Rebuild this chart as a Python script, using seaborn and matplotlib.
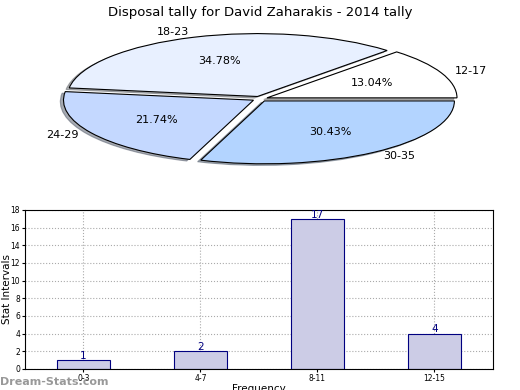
import matplotlib
matplotlib.use("Agg")
import matplotlib.pyplot as plt
import seaborn as sns

# pie data
age_groups = ["12-17", "18-23", "24-29", "30-35"]
age_counts = [3, 8, 5, 7]
pie_colors = ["#ffffff", "#e8f0ff", "#c4d8ff", "#b3d4ff"]

# bar data
intervals = ["0-3", "4-7", "8-11", "12-15"]
frequency = [1, 2, 17, 4]

fig = plt.figure(figsize=(5.2, 3.9), dpi=100)
fig.patch.set_facecolor("white")

# --- pie ---
ax1 = fig.add_axes([0.0615, 0.553, 0.877, 0.387])
ax1.pie(age_counts, labels=age_groups, colors=pie_colors, autopct="%.2f%%",
        explode=[0.04] * 4, shadow={"ox": -0.012, "oy": -0.018, "shade": 0.6},
        startangle=0, labeldistance=1.08,
        wedgeprops={"edgecolor": "black", "linewidth": 0.8},
        textprops={"fontsize": 8})
ax1.set_aspect("auto")
ax1.set_xlim(-1.2, 1.2)
ax1.set_ylim(-1.2, 1.2)
ax1.set_title("Disposal tally for David Zaharakis - 2014 tally", fontsize=9.5, pad=5)

# --- bars ---
ax2 = fig.add_axes([0.048, 0.054, 0.9, 0.408])
sns.barplot(x=intervals, y=frequency, color="#ccccE6", saturation=1,
            edgecolor="navy", linewidth=0.8, width=0.45, ax=ax2)
for i, v in enumerate(frequency):
    ax2.text(i, v - 0.1, str(v), ha="center", va="bottom", color="navy", fontsize=7.5)
ax2.set_xlim(-0.5, 3.5)
ax2.set_ylim(0, 18)
ax2.set_yticks(range(0, 19, 2))
ax2.grid(True, linestyle=":", color="#aaaaaa", linewidth=0.8)
ax2.set_axisbelow(True)
ax2.tick_params(labelsize=5.5, length=2, pad=1.5)
ax2.set_ylabel("Stat Intervals", fontsize=7.5)
ax2.set_xlabel("Frequency", fontsize=7.5)
ax2.yaxis.set_label_coords(-0.028, 0.5)
ax2.xaxis.set_label_coords(0.5, -0.095)

fig.text(0.0, 0.012, "Dream-Stats.com", color="#999999", fontsize=8, fontweight="bold")

fig.savefig("out.png", dpi=100)
